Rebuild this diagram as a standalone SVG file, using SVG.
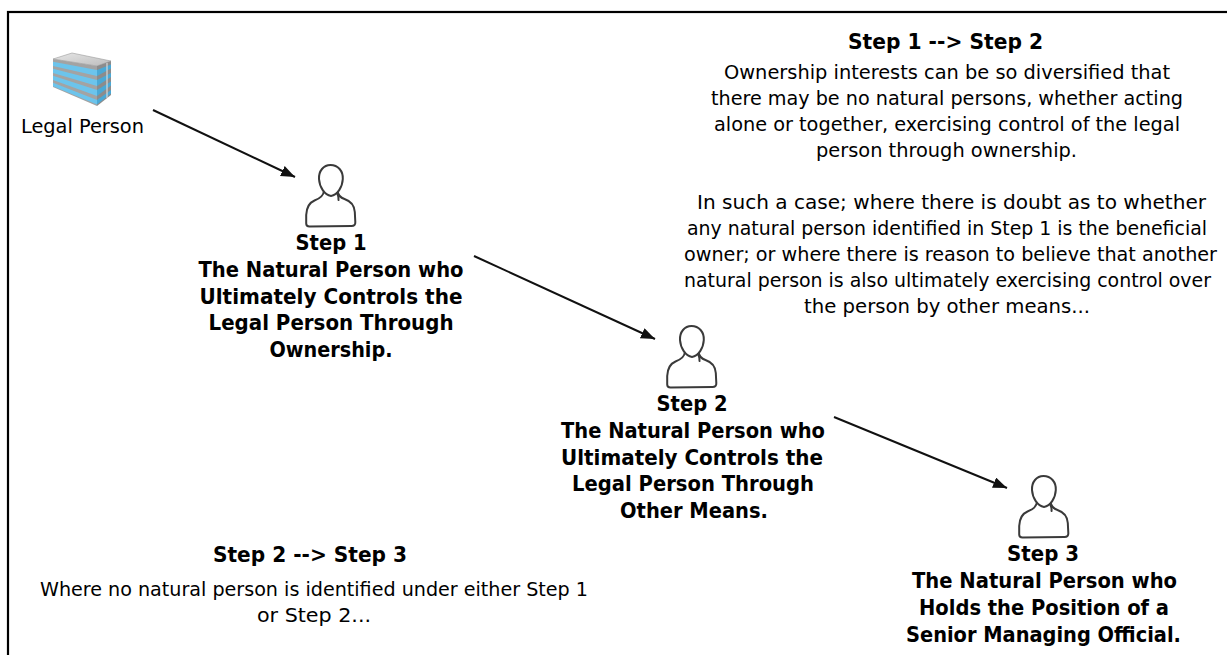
<svg xmlns="http://www.w3.org/2000/svg" xmlns:xlink="http://www.w3.org/1999/xlink" width="1227" height="655" viewBox="0 0 1227 655">
<style>
  .reg { font-family: "DejaVu Sans Condensed", "DejaVu Sans", "Liberation Sans", sans-serif; font-size: 19.5px; fill: #000; text-anchor: middle; }
  .bold { font-family: "DejaVu Sans", "Liberation Sans", sans-serif; font-weight: bold; font-size: 20.5px; fill: #000; text-anchor: middle; }
  .conn { stroke: #111; stroke-width: 2; fill: none; marker-end: url(#arrow); }
  .pers { fill: #fff; stroke: #3a3a3a; stroke-width: 2; stroke-linejoin: round; stroke-linecap: round; }
</style>
<defs>
  <marker id="arrow" markerUnits="userSpaceOnUse" markerWidth="15" markerHeight="12" refX="14" refY="5.5" orient="auto">
    <path d="M0,0 L14,5.5 L0,11 Z" fill="#111"/>
  </marker>
  <g id="person">
    <path class="pers" d="M19 27 C18.5 31 15 34.5 9.5 36.5 C3.5 39 1.5 44 1.2 51 L1.2 59.5 C1.2 61.8 2.2 62.5 4.5 62.5 L46.5 62 C49.2 62 50.5 60.8 50.3 58 L49.8 48 C49.3 41 45.5 37 39.5 35 C35 33.5 33 30.5 32.5 27"/>
    <path class="pers" d="M25.5 1 C33 1 38.2 7 37.8 15 C37.4 23 32.5 31 26 32 C19.5 31 14.5 23 14 15 C13.6 7 18.5 1 25.5 1 Z"/>
    <path class="pers" fill="none" d="M32 29 C33 31.5 34 33 33.5 36"/>
  </g>
  <linearGradient id="topg" x1="0" y1="0" x2="1" y2="1">
    <stop offset="0" stop-color="#e6e6e6"/>
    <stop offset="1" stop-color="#bdbdbd"/>
  </linearGradient>
</defs>

<rect x="8" y="12" width="1240" height="670" fill="none" stroke="#000" stroke-width="2.2"/>

<g id="connectors">
  <line class="conn" x1="153" y1="110" x2="295" y2="177"/>
  <line class="conn" x1="474" y1="256" x2="655" y2="339"/>
  <line class="conn" x1="834" y1="417" x2="1007" y2="488"/>
</g>

<g id="legal-person">
  <polygon points="53,59 72,53 111,61 97,66" fill="url(#topg)" stroke="#9a9a9a" stroke-width="0.6"/>
  <polygon points="53,59 97,66 97,106 53,87" fill="#a3a3a3"/>
  <polygon points="53,61.8 97,70 97,76 53,66" fill="#6cc4ec"/>
  <polygon points="53,68.8 97,80 97,86 53,73" fill="#6cc4ec"/>
  <polygon points="53,75.8 97,90 97,96 53,80" fill="#6cc4ec"/>
  <polygon points="53,82.8 97,100 97,104.5 53,86.2" fill="#6cc4ec"/>
  <polygon points="97,66 111,61 111,95 97,106" fill="#8c8c8c"/>
  <polygon points="97,70 111,64.4 111,68.5 97,76" fill="#4aa9d6"/>
  <polygon points="97,80 111,73 111,77 97,86" fill="#4aa9d6"/>
  <polygon points="97,90 111,81.5 111,85.5 97,96" fill="#4aa9d6"/>
  <polygon points="97,100 111,90 111,93.5 97,104.5" fill="#4aa9d6"/>
  <line x1="107" y1="63" x2="107" y2="98" stroke="#d9d9d9" stroke-width="1.2"/>
  <text class="reg" x="82.5" y="133" textLength="123" lengthAdjust="spacingAndGlyphs">Legal Person</text>
</g>

<g id="step1">
  <use xlink:href="#person" href="#person" x="305" y="164"/>
  <text class="bold" x="331" y="250" textLength="71" lengthAdjust="spacingAndGlyphs">Step 1</text>
  <text class="bold" x="331" y="277" textLength="265" lengthAdjust="spacingAndGlyphs">The Natural Person who</text>
  <text class="bold" x="331" y="304" textLength="263" lengthAdjust="spacingAndGlyphs">Ultimately Controls the</text>
  <text class="bold" x="331" y="330" textLength="245" lengthAdjust="spacingAndGlyphs">Legal Person Through</text>
  <text class="bold" x="331" y="357" textLength="123" lengthAdjust="spacingAndGlyphs">Ownership.</text>
</g>

<g id="step2">
  <use xlink:href="#person" href="#person" x="666" y="325"/>
  <text class="bold" x="692" y="411" textLength="71" lengthAdjust="spacingAndGlyphs">Step 2</text>
  <text class="bold" x="693" y="438" textLength="264" lengthAdjust="spacingAndGlyphs">The Natural Person who</text>
  <text class="bold" x="692" y="465" textLength="262" lengthAdjust="spacingAndGlyphs">Ultimately Controls the</text>
  <text class="bold" x="693" y="491" textLength="242" lengthAdjust="spacingAndGlyphs">Legal Person Through</text>
  <text class="bold" x="694" y="518" textLength="148" lengthAdjust="spacingAndGlyphs">Other Means.</text>
</g>

<g id="step3">
  <use xlink:href="#person" href="#person" x="1018" y="475"/>
  <text class="bold" x="1043" y="561" textLength="72" lengthAdjust="spacingAndGlyphs">Step 3</text>
  <text class="bold" x="1044.5" y="588" textLength="265" lengthAdjust="spacingAndGlyphs">The Natural Person who</text>
  <text class="bold" x="1044" y="615" textLength="250" lengthAdjust="spacingAndGlyphs">Holds the Position of a</text>
  <text class="bold" x="1043.5" y="642" textLength="275" lengthAdjust="spacingAndGlyphs">Senior Managing Official.</text>
</g>

<g id="note-step1-step2">
  <text class="bold" x="945.5" y="49" textLength="195" lengthAdjust="spacingAndGlyphs">Step 1 --&gt; Step 2</text>
  <text class="reg" x="947" y="79" textLength="446" lengthAdjust="spacingAndGlyphs">Ownership interests can be so diversified that</text>
  <text class="reg" x="947" y="105" textLength="472" lengthAdjust="spacingAndGlyphs">there may be no natural persons, whether acting</text>
  <text class="reg" x="947" y="131" textLength="466" lengthAdjust="spacingAndGlyphs">alone or together, exercising control of the legal</text>
  <text class="reg" x="946.5" y="157" textLength="261" lengthAdjust="spacingAndGlyphs">person through ownership.</text>
  <text class="reg" x="951.5" y="209" textLength="509" lengthAdjust="spacingAndGlyphs">In such a case; where there is doubt as to whether</text>
  <text class="reg" x="947" y="235" textLength="520" lengthAdjust="spacingAndGlyphs">any natural person identified in Step 1 is the beneficial</text>
  <text class="reg" x="950.5" y="261" textLength="533" lengthAdjust="spacingAndGlyphs">owner; or where there is reason to believe that another</text>
  <text class="reg" x="947.5" y="287" textLength="527" lengthAdjust="spacingAndGlyphs">natural person is also ultimately exercising control over</text>
  <text class="reg" x="947" y="313" textLength="286" lengthAdjust="spacingAndGlyphs">the person by other means...</text>
</g>

<g id="note-step2-step3">
  <text class="bold" x="310" y="562" textLength="194" lengthAdjust="spacingAndGlyphs">Step 2 --&gt; Step 3</text>
  <text class="reg" x="314" y="596" textLength="548" lengthAdjust="spacingAndGlyphs">Where no natural person is identified under either Step 1</text>
  <text class="reg" x="314" y="622" textLength="114" lengthAdjust="spacingAndGlyphs">or Step 2...</text>
</g>
</svg>
